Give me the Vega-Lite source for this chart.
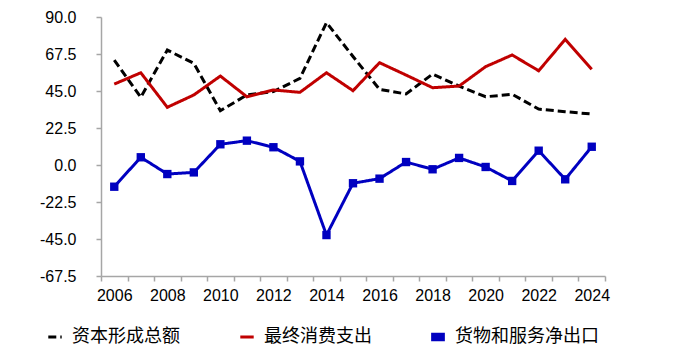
{
  "$schema": "https://vega.github.io/schema/vega-lite/v6.json",
  "width": 504,
  "height": 259,
  "autosize": "none",
  "padding": {"left": 101, "top": 17, "right": 95, "bottom": 86},
  "background": "white",
  "config": {
    "view": {"stroke": null},
    "font": "Liberation Sans",
    "axis": {
      "labelFont": "Liberation Sans",
      "labelFontSize": 16,
      "labelColor": "#000000",
      "domainColor": "#A6A6A6",
      "tickColor": "#A6A6A6",
      "domainWidth": 1.5,
      "tickWidth": 1.5,
      "tickSize": 5,
      "grid": false,
      "title": null
    },
    "legend": {
      "orient": "none",
      "legendX": -55,
      "legendY": 311,
      "direction": "horizontal",
      "title": null,
      "labelFont": "Noto Sans CJK SC",
      "labelFontSize": 18,
      "labelColor": "#000000",
      "symbolSize": 180,
      "symbolStrokeWidth": 3,
      "labelOffset": 8,
      "columnPadding": 54,
      "padding": 0
    }
  },
  "data": {
    "values": [
      {"year": 2006, "series": "资本形成总额", "value": 63.8},
      {"year": 2007, "series": "资本形成总额", "value": 41.2},
      {"year": 2008, "series": "资本形成总额", "value": 69.9},
      {"year": 2009, "series": "资本形成总额", "value": 61.8},
      {"year": 2010, "series": "资本形成总额", "value": 33.0},
      {"year": 2011, "series": "资本形成总额", "value": 42.6},
      {"year": 2012, "series": "资本形成总额", "value": 44.6},
      {"year": 2013, "series": "资本形成总额", "value": 52.7},
      {"year": 2014, "series": "资本形成总额", "value": 86.6},
      {"year": 2015, "series": "资本形成总额", "value": 66.0},
      {"year": 2016, "series": "资本形成总额", "value": 46.0},
      {"year": 2017, "series": "资本形成总额", "value": 43.2},
      {"year": 2018, "series": "资本形成总额", "value": 55.3},
      {"year": 2019, "series": "资本形成总额", "value": 48.0},
      {"year": 2020, "series": "资本形成总额", "value": 41.5},
      {"year": 2021, "series": "资本形成总额", "value": 43.0},
      {"year": 2022, "series": "资本形成总额", "value": 34.0},
      {"year": 2023, "series": "资本形成总额", "value": 32.4},
      {"year": 2024, "series": "资本形成总额", "value": 31.0},
      {"year": 2006, "series": "最终消费支出", "value": 49.2},
      {"year": 2007, "series": "最终消费支出", "value": 56.1},
      {"year": 2008, "series": "最终消费支出", "value": 35.1},
      {"year": 2009, "series": "最终消费支出", "value": 42.6},
      {"year": 2010, "series": "最终消费支出", "value": 54.1},
      {"year": 2011, "series": "最终消费支出", "value": 41.5},
      {"year": 2012, "series": "最终消费支出", "value": 45.6},
      {"year": 2013, "series": "最终消费支出", "value": 44.2},
      {"year": 2014, "series": "最终消费支出", "value": 56.1},
      {"year": 2015, "series": "最终消费支出", "value": 45.2},
      {"year": 2016, "series": "最终消费支出", "value": 62.2},
      {"year": 2017, "series": "最终消费支出", "value": 54.7},
      {"year": 2018, "series": "最终消费支出", "value": 47.0},
      {"year": 2019, "series": "最终消费支出", "value": 48.0},
      {"year": 2020, "series": "最终消费支出", "value": 59.8},
      {"year": 2021, "series": "最终消费支出", "value": 66.9},
      {"year": 2022, "series": "最终消费支出", "value": 57.3},
      {"year": 2023, "series": "最终消费支出", "value": 76.4},
      {"year": 2024, "series": "最终消费支出", "value": 58.2},
      {"year": 2006, "series": "货物和服务净出口", "value": -13.2},
      {"year": 2007, "series": "货物和服务净出口", "value": 4.7},
      {"year": 2008, "series": "货物和服务净出口", "value": -5.5},
      {"year": 2009, "series": "货物和服务净出口", "value": -4.5},
      {"year": 2010, "series": "货物和服务净出口", "value": 12.6},
      {"year": 2011, "series": "货物和服务净出口", "value": 14.8},
      {"year": 2012, "series": "货物和服务净出口", "value": 10.8},
      {"year": 2013, "series": "货物和服务净出口", "value": 2.2},
      {"year": 2014, "series": "货物和服务净出口", "value": -42.6},
      {"year": 2015, "series": "货物和服务净出口", "value": -11.1},
      {"year": 2016, "series": "货物和服务净出口", "value": -8.3},
      {"year": 2017, "series": "货物和服务净出口", "value": 1.8},
      {"year": 2018, "series": "货物和服务净出口", "value": -2.6},
      {"year": 2019, "series": "货物和服务净出口", "value": 4.3},
      {"year": 2020, "series": "货物和服务净出口", "value": -1.2},
      {"year": 2021, "series": "货物和服务净出口", "value": -9.7},
      {"year": 2022, "series": "货物和服务净出口", "value": 8.7},
      {"year": 2023, "series": "货物和服务净出口", "value": -8.7},
      {"year": 2024, "series": "货物和服务净出口", "value": 11.1}
    ]
  },
  "layer": [
    {
      "mark": {"type": "line", "strokeWidth": 3},
      "encoding": {
        "x": {
          "field": "year",
          "type": "quantitative",
          "scale": {"domain": [2005.5, 2024.5], "nice": false, "zero": false},
          "axis": {
            "values": [2005.5, 2006, 2006.5, 2007, 2007.5, 2008, 2008.5, 2009, 2009.5, 2010, 2010.5, 2011, 2011.5, 2012, 2012.5, 2013, 2013.5, 2014, 2014.5, 2015, 2015.5, 2016, 2016.5, 2017, 2017.5, 2018, 2018.5, 2019, 2019.5, 2020, 2020.5, 2021, 2021.5, 2022, 2022.5, 2023, 2023.5, 2024, 2024.5],
            "tickCount": 200,
            "labelExpr": "datum.value % 2 === 0 ? format(datum.value, 'd') : ''",
            "tickOpacity": {"condition": {"test": "datum.value % 1 === 0", "value": 0}, "value": 1},
            "labelOverlap": false,
            "labelFlush": false,
            "labelBound": false,
            "labelPadding": 6
          }
        },
        "y": {
          "field": "value",
          "type": "quantitative",
          "scale": {"domain": [-67.5, 90], "nice": false, "zero": false},
          "axis": {
            "values": [-67.5, -45, -22.5, 0, 22.5, 45, 67.5, 90],
            "tickCount": 50,
            "labelOverlap": false,
            "labelExpr": "replace(format(datum.value, '.1f'), '−', '-')",
            "labelPadding": 20
          }
        },
        "color": {
          "field": "series",
          "type": "nominal",
          "scale": {"domain": ["资本形成总额", "最终消费支出", "货物和服务净出口"], "range": ["#000000", "#C00000", "#0000C0"]},
          "legend": {
            "symbolType": "stroke",
            "encode": {
              "symbols": {
                "update": {
                  "shape": {"signal": "datum.value === '货物和服务净出口' ? 'M-0.8,-0.4L0.8,-0.4L0.8,0.4L-0.8,0.4Z' : 'stroke'"},
                  "fill": {"signal": "datum.value === '货物和服务净出口' ? '#0000C0' : 'transparent'"}
                }
              }
            }
          }
        },
        "strokeDash": {
          "field": "series",
          "type": "nominal",
          "scale": {"domain": ["资本形成总额", "最终消费支出", "货物和服务净出口"], "range": [[8, 4], [1, 0], [1, 0]]},
          "legend": {
            "symbolType": "stroke",
            "encode": {
              "symbols": {
                "update": {
                  "shape": {"signal": "datum.value === '货物和服务净出口' ? 'M-0.8,-0.4L0.8,-0.4L0.8,0.4L-0.8,0.4Z' : 'stroke'"},
                  "fill": {"signal": "datum.value === '货物和服务净出口' ? '#0000C0' : 'transparent'"}
                }
              }
            }
          }
        }
      }
    },
    {
      "transform": [{"filter": "datum.series === '货物和服务净出口'"}],
      "mark": {"type": "point", "filled": true, "shape": "square", "size": 70, "opacity": 1},
      "encoding": {
        "x": {"field": "year", "type": "quantitative"},
        "y": {"field": "value", "type": "quantitative"},
        "color": {"field": "series", "type": "nominal"}
      }
    }
  ]
}
